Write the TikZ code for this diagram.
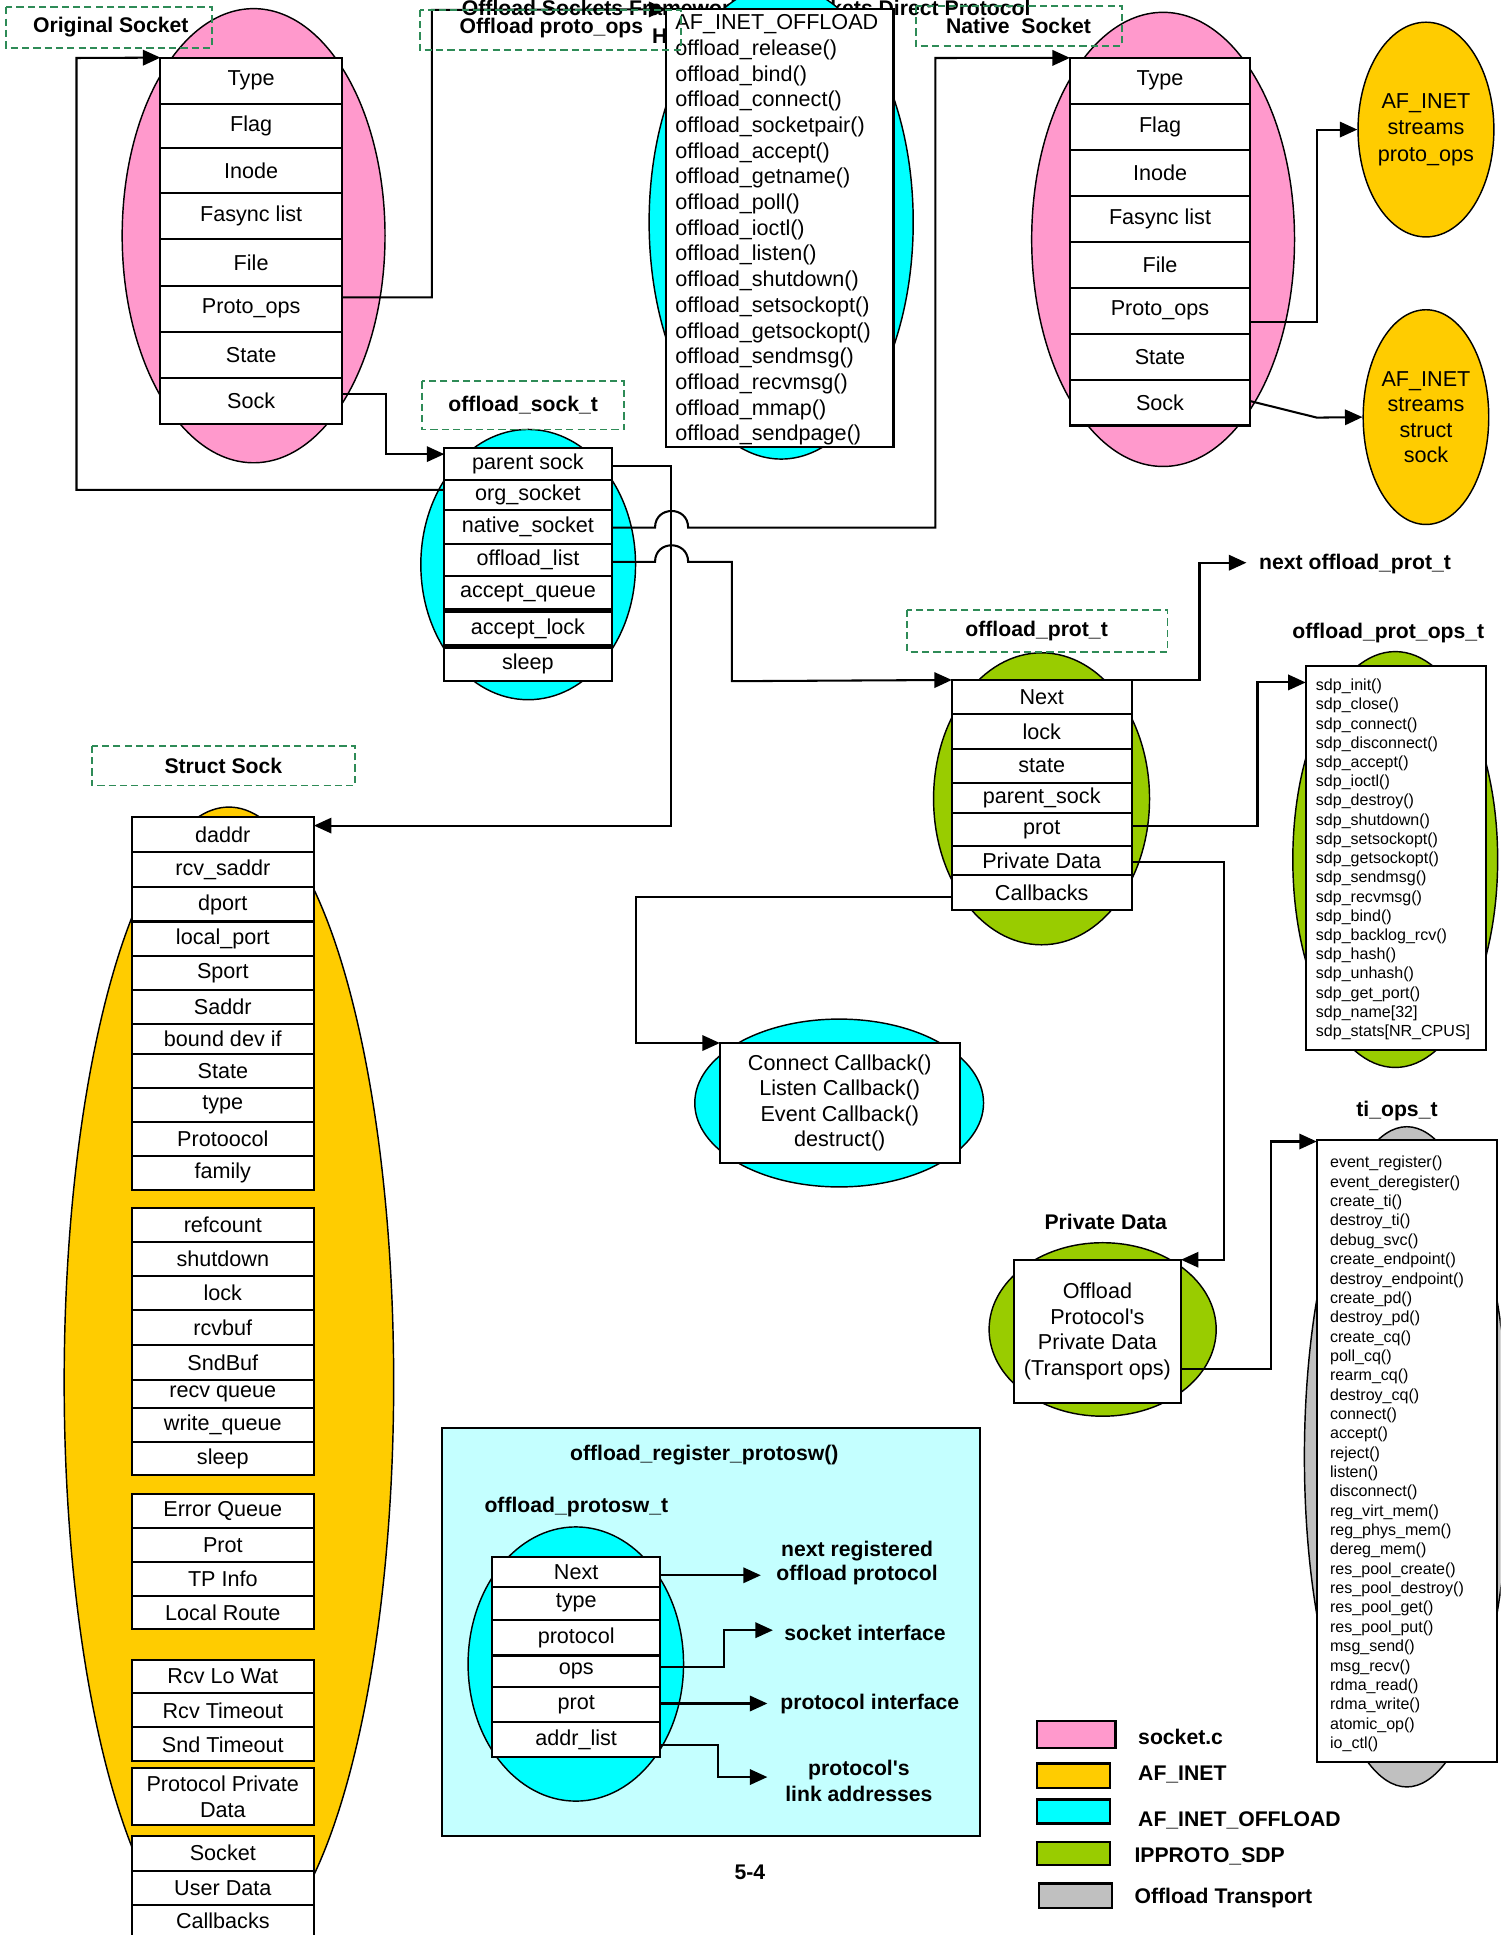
\documentclass[tikz,border=0pt]{standalone}
\usepackage{fontspec}
\setmainfont{Liberation Sans}
\usetikzlibrary{arrows.meta,shapes.geometric}

\definecolor{sockpink}{HTML}{FF99CC}
\definecolor{inetorange}{HTML}{FFCC00}
\definecolor{offcyan}{HTML}{00FFFF}
\definecolor{sdpgreen}{HTML}{99CC00}
\definecolor{transgray}{HTML}{C0C0C0}
\definecolor{regcyan}{HTML}{C4FFFF}
\definecolor{tagline}{HTML}{2E8B57}

\tikzset{
  cell/.style={draw, line width=1pt, fill=white, inner sep=0pt, outer sep=0pt,
               align=center, font=\fontsize{10.5}{12.4}\selectfont},
  bgell/.style={draw, line width=0.7pt},
  conn/.style={line width=1pt},
  arr/.style={conn, -{Triangle[length=8.5pt,width=7.5pt]}},
  tag/.style={draw=tagline, line width=0.9pt, dash pattern=on 3.5pt off 2pt},
  lbl/.style={font=\bfseries\fontsize{10.3}{12}\selectfont, inner sep=0pt, align=center},
  lst/.style={font=\fontsize{10.5}{12.4}\selectfont, inner sep=0pt, anchor=base west},
  sml/.style={font=\fontsize{7.8}{9.4}\selectfont, inner sep=0pt, anchor=base west},
  swatch/.style={draw, line width=1.1pt},
  blob/.style={draw, line width=0.7pt, ellipse, inner sep=0pt, align=center},
}

% rectangular field: [options]{name}{x1}{y1}{x2}{y2}{text}
\newcommand\rectnode[7][]{%
  \node[cell,#1, minimum width={0.6pt*((#5)-(#3))}, minimum height={0.6pt*((#6)-(#4))}]
    (#2) at ({((#3)+(#5))/2},{((#4)+(#6))/2}) {#7};}

\begin{document}
\begin{tikzpicture}[x=0.6pt,y=-0.6pt]
\useasboundingbox (0,0) rectangle (1216,1568);
\clip (0,0) rectangle (1216,1568);
\fill[white] (0,0) rectangle (1216,1568);

% page heading, partly hidden behind the proto_ops structure
\node[lbl, anchor=base west] (heading) at (374,12.5) {Offload Sockets Framework and Sockets Direct Protocol};
\node[lbl, anchor=base west] (hidden-h) at (528,35) {H};

% ---------- coloured backgrounds ----------
\draw[bgell, fill=sockpink]   (205.5,191)   ellipse [x radius=106.5, y radius=184];
\draw[bgell, fill=offcyan]    (633,180)     ellipse [x radius=107,   y radius=192];
\draw[bgell, fill=sockpink]   (942.5,194)   ellipse [x radius=106.5, y radius=184];
\draw[bgell, fill=offcyan]    (428,457.5)   ellipse [x radius=87,    y radius=109.5];
\draw[bgell, fill=sdpgreen]   (844,647.3)   ellipse [x radius=87.5,  y radius=118.3];
\draw[bgell, fill=sdpgreen]   (1130.6,696.5) ellipse [x radius=83,   y radius=168.5];
\draw[bgell, fill=offcyan]    (680,893.8)   ellipse [x radius=117,   y radius=68];
\draw[bgell, fill=sdpgreen]   (893.5,1077.3) ellipse [x radius=92,   y radius=70.3];
\draw[bgell, fill=transgray]  (1140,1180.5) ellipse [x radius=83,    y radius=267.5];
\draw[bgell, fill=inetorange] (185.5,1120)  ellipse [x radius=133.5, y radius=466];

% registration panel
\draw[line width=1pt, fill=regcyan] (358,1157) rectangle (794,1487.4);
\draw[bgell, fill=offcyan] (466.6,1348.4) ellipse [x radius=87.3, y radius=111.1];

% AF_INET targets
\node[blob, fill=inetorange, minimum width=57pt, minimum height=104.4pt,
      font=\fontsize{10.5}{12.9}\selectfont] (afops) at (1155.5,105) {AF\_INET\\streams\\proto\_ops};
\node[blob, fill=inetorange, minimum width=57pt, minimum height=104.4pt,
      font=\fontsize{10.5}{12.4}\selectfont] (afsock) at (1155.5,338) {AF\_INET\\streams\\struct\\sock};

% ---------- structures ----------
% original socket
\foreach \t/\a/\b [count=\i] in {Type/46.7/84, Flag/84/119.6, Inode/119.6/156.6,
    Fasync list/156.6/193.9, File/193.9/231.4, Proto\_ops/231.4/268.7,
    State/268.7/306, Sock/306/343.5}
  \rectnode{os\i}{130}{\a}{277}{\b}{\t};

% native socket
\foreach \t/\a/\b [count=\i] in {Type/46.9/84, Flag/84/121.3, Inode/121.3/158.5,
    Fasync list/158.5/195.8, File/195.8/233.2, Proto\_ops/233.2/270.3,
    State/270.3/307.7, Sock/307.7/344.8}
  \rectnode{ns\i}{867}{\a}{1013}{\b}{\t};

% offload proto_ops table
\rectnode{oflbox}{540}{7.6}{724}{362}{};
\foreach \t [count=\i] in {AF\_INET\_OFFLOAD, offload\_release(), offload\_bind(),
    offload\_connect(), offload\_socketpair(), offload\_accept(), offload\_getname(),
    offload\_poll(), offload\_ioctl(), offload\_listen(), offload\_shutdown(),
    offload\_setsockopt(), offload\_getsockopt(), offload\_sendmsg(),
    offload\_recvmsg(), offload\_mmap(), offload\_sendpage()}
  \node[lst] (ofl\i) at (547,{24.3+(\i-1)*20.8}) {\t};

% offload_sock_t
\foreach \t/\a/\b [count=\i] in {parent sock/363/389, org\_socket/389/413,
    native\_socket/413/440.7, offload\_list/440.7/466.6, accept\_queue/466.6/494.7,
    accept\_lock/494.7/523.9, sleep/523.9/552.2}
  \rectnode{oso\i}{360}{\a}{495.6}{\b}{\t};
\draw[line width=2.2pt] (oso5.south west) -- (oso5.south east);
\draw[line width=2.2pt] (oso6.south west) -- (oso6.south east);

% offload_prot_t
\foreach \t/\a/\b [count=\i] in {Next/551/578.4, lock/578.4/607, state/607/634.6,
    parent\_sock/634.6/658.9, prot/658.9/685.4, Private Data/685.4/709.4,
    Callbacks/709.4/737.2}
  \rectnode{op\i}{771.3}{\a}{917}{\b}{\t};

% offload_prot_ops_t
\rectnode{opsbox}{1058}{539.5}{1204}{850.6}{};
\foreach \t [count=\i] in {sdp\_init(), sdp\_close(), sdp\_connect(), sdp\_disconnect(),
    sdp\_accept(), sdp\_ioctl(), sdp\_destroy(), sdp\_shutdown(), sdp\_setsockopt(),
    sdp\_getsockopt(), sdp\_sendmsg(), sdp\_recvmsg(), sdp\_bind(), sdp\_backlog\_rcv(),
    sdp\_hash(), sdp\_unhash(), sdp\_get\_port(), sdp\_name[32], sdp\_stats[NR\_CPUS]}
  \node[sml] (sdp\i) at (1066,{559.7+(\i-1)*15.57}) {\t};

% callbacks
\rectnode[font=\fontsize{10.5}{12.4}\selectfont]{cbbox}{583.3}{845.2}{777.7}{942.4}
  {Connect Callback()\\Listen Callback()\\Event Callback()\\destruct()};

% private data
\rectnode{pdbox}{821.5}{1020.8}{957}{1136.8}
  {Offload\\Protocol\textquotesingle s\\Private Data\\(Transport ops)};

% ti_ops_t
\rectnode{tibox}{1067}{923.6}{1213}{1428}{};
\foreach \t [count=\i] in {event\_register(), event\_deregister(), create\_ti(),
    destroy\_ti(), debug\_svc(), create\_endpoint(), destroy\_endpoint(), create\_pd(),
    destroy\_pd(), create\_cq(), poll\_cq(), rearm\_cq(), destroy\_cq(), connect(),
    accept(), reject(), listen(), disconnect(), reg\_virt\_mem(), reg\_phys\_mem(),
    dereg\_mem(), res\_pool\_create(), res\_pool\_destroy(), res\_pool\_get(),
    res\_pool\_put(), msg\_send(), msg\_recv(), rdma\_read(), rdma\_write(),
    atomic\_op(), io\_ctl()}
  \node[sml] (ti\i) at (1077.5,{946.4+(\i-1)*15.68}) {\t};

% struct sock
\foreach \t/\a/\b [count=\i] in {daddr/662.4/690.5, rcv\_saddr/690.5/719.1,
    dport/719.1/746.7, local\_port/746.7/774.5, Sport/774.5/802, Saddr/802/829.6,
    bound dev if/829.6/853.9, State/853.9/881.7, type/881.7/909.2,
    Protoocol/909.2/936.5, family/936.5/964}
  \rectnode{ss\i}{106.7}{\a}{254.4}{\b}{\t};
\foreach \t/\a/\b [count=\i] in {refcount/979/1006.3, shutdown/1006.3/1033.7,
    lock/1033.7/1061.4, rcvbuf/1061.4/1089.8, SndBuf/1089.8/1118.4,
    recv queue/1118.4/1141.2, write\_queue/1141.2/1168.5, sleep/1168.5/1195.5}
  \rectnode{sb\i}{106.7}{\a}{254.4}{\b}{\t};
\foreach \t/\a/\b [count=\i] in {Error Queue/1210.6/1238, Prot/1238/1265.4,
    TP Info/1265.4/1293.1, Local Route/1293.1/1320}
  \rectnode{sc\i}{106.7}{\a}{254.4}{\b}{\t};
\foreach \t/\a/\b [count=\i] in {Rcv Lo Wat/1345.1/1372.1, Rcv Timeout/1372.1/1399.8,
    Snd Timeout/1399.8/1427.2}
  \rectnode{sd\i}{106.7}{\a}{254.4}{\b}{\t};
\rectnode{se1}{106.7}{1432.5}{254.4}{1479.2}{Protocol Private\\Data};
\foreach \t/\a/\b [count=\i] in {Socket/1487.5/1516, User Data/1516/1543.7,
    Callbacks/1543.7/1570}
  \rectnode{sf\i}{106.7}{\a}{254.4}{\b}{\t};

% offload_protosw_t
\foreach \t/\a/\b [count=\i] in {Next/1261.9/1285.9, type/1285.9/1312.4,
    protocol/1312.4/1341.5, ops/1341.5/1367.2, prot/1367.2/1395, addr\_list/1395/1423.9}
  \rectnode{pw\i}{399}{\a}{534.8}{\b}{\t};

% ---------- titles and labels ----------
\node[lbl] (t-pops) at (1125,513) {offload\_prot\_ops\_t};
\node[lbl] (t-ti) at (1132,900) {ti\_ops\_t};
\node[lbl] (t-pd) at (896,990) {Private Data};
\node[lbl, anchor=west] (nextop) at (1020,457) {next offload\_prot\_t};
\node[lbl] (t-reg) at (570.7,1178.7) {offload\_register\_protosw()};
\node[lbl] (t-psw) at (467,1221) {offload\_protosw\_t};
\node[lbl] (l-next) at (694.5,1266.5) {next registered\\offload protocol};
\node[lbl] (l-sock) at (701,1323) {socket interface};
\node[lbl] (l-prot) at (704.8,1381) {protocol interface};
\node[lbl, font=\bfseries\fontsize{10.3}{12.6}\selectfont] (l-link) at (696,1443.5) {protocol\textquotesingle s\\link addresses};
\node[lbl] (pageno) at (607.6,1517) {5-4};

% ---------- connectors ----------
\draw[arr] (oso2.west |- 0,397) -| (62,47) -- (os1.north west);
\draw[arr] (os6.east |- 0,241) -| (350,8) -- (oflbox.north west);
\draw[arr] (os8.east |- 0,319) -| (313,368) -- (oso1.west |- 0,368);
\draw[arr] (oso1.east |- 0,377.3) -| (544,669) -- (ss1.east |- 0,669);
\draw[arr] (oso3.east |- 0,427.5) -- (530.8,427.5)
   .. controls (530.8,409.6) and (557.6,409.6) .. (557.6,427.5)
   -| (758,47) -- (ns1.north west);
\draw[arr] (oso4.east |- 0,455.3) -- (530.8,455.3)
   .. controls (530.8,437.4) and (557.6,437.4) .. (557.6,455.3)
   -| (593,552) -- (op1.north west);
\draw[arr] (ns6.east |- 0,261) -| (1067,105) -- (afops.west);
\draw[arr] (ns8.east |- 0,325) -- (1067,338.4) -- (afsock.west);
\draw[arr] (op1.north east) -- (972,551) -- (972,456) -- ([xshift=-6pt]nextop.west |- 0,456);
\draw[arr] (op5.east |- 0,669) -| (1019,553) -- (opsbox.west |- 0,553);
\draw[arr] (op6.east |- 0,698.5) -| (991.6,1020.8) -- (pdbox.north east);
\draw[arr] (op7.west |- 0,727) -| (515,845.2) -- (cbbox.north west);
\draw[arr] (pdbox.east |- 0,1109) -| (1030,925) -- (tibox.west |- 0,925);

\coordinate (nr-tip) at (616.5,1276.5);
\coordinate (si-tip) at (626.3,1321);
\coordinate (pi-tip) at (621.8,1380.4);
\coordinate (la-tip) at (621.8,1440);
\draw[arr] (pw1.east |- 0,1276.5) -- (nr-tip);
\draw[arr] (pw4.east |- 0,1351) -| (586.4,1321) -- (si-tip);
\draw[arr] (pw5.east |- 0,1380.4) -- (pi-tip);
\draw[arr] (pw6.east |- 0,1414.4) -| (582,1440) -- (la-tip);

% ---------- dashed captions ----------
\draw[tag] (4.7,5.9) rectangle (171.7,38.6);
\node[lbl] (tag-orig) at (89.8,21.6) {Original Socket};
\draw[tag] (340,8) rectangle (552,40.5);
\node[lbl] (tag-pops) at (446.8,23) {Offload proto\_ops};
\draw[tag] (742,4.7) rectangle (909.4,37.1);
\node[lbl] (tag-native) at (825.3,20.9) {Native\ \ Socket};
\draw[tag] (342,309) rectangle (505.8,348);
\node[lbl] (tag-osock) at (424,328) {offload\_sock\_t};
\draw[tag] (735.3,494) rectangle (946,528);
\node[lbl] (tag-oprot) at (840,511) {offload\_prot\_t};
\draw[tag] (74.3,604.4) rectangle (287.6,636.5);
\node[lbl] (tag-ssock) at (181,620.5) {Struct Sock};

% ---------- legend ----------
\draw[swatch, fill=sockpink]   (840.6,1394.7) rectangle (904,1416.3);
\draw[swatch, fill=inetorange] (840.6,1429)   rectangle (899.2,1448.7);
\draw[swatch, fill=offcyan]    (840.6,1458.2) rectangle (899.2,1477.6);
\draw[swatch, fill=sdpgreen]   (840.6,1492.5) rectangle (899.2,1511.4);
\draw[swatch, fill=transgray]  (842,1526.3)   rectangle (901,1546);
\node[lbl, anchor=west] (lg-sock)  at (922,1407.7) {socket.c};
\node[lbl, anchor=west] (lg-inet)  at (922,1438)   {AF\_INET};
\node[lbl, anchor=west] (lg-off)   at (922,1475)   {AF\_INET\_OFFLOAD};
\node[lbl, anchor=west] (lg-sdp)   at (919,1504)   {IPPROTO\_SDP};
\node[lbl, anchor=west] (lg-trans) at (919,1538.4) {Offload Transport};
\end{tikzpicture}
\end{document}
